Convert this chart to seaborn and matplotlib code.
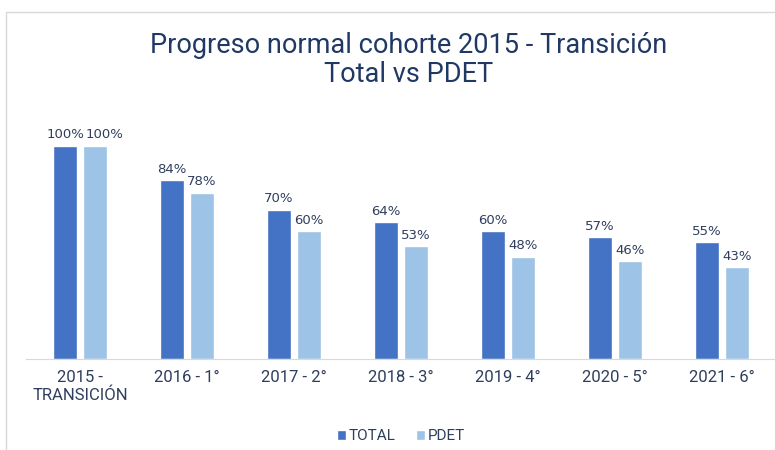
import pandas as pd
import matplotlib.pyplot as plt
import matplotlib.patches as mpatches
import seaborn as sns

# datos
grados = ["2015 -\nTRANSICIÓN", "2016 - 1°", "2017 - 2°", "2018 - 3°",
          "2019 - 4°", "2020 - 5°", "2021 - 6°"]
total = [100, 84, 70, 64, 60, 57, 55]
pdet = [100, 78, 60, 53, 48, 46, 43]

df = pd.DataFrame({
    "grado": grados * 2,
    "valor": total + pdet,
    "serie": ["TOTAL"] * len(grados) + ["PDET"] * len(grados),
})

sns.set_style("white")
plt.rcParams['font.family'] = ['Roboto', 'DejaVu Sans']

texto = '#2F3E5E'
fig = plt.figure(figsize=(7.75, 4.5), dpi=100)
ax = fig.add_axes([26.5 / 775, 91 / 450, 749 / 775, 256 / 450])

sns.barplot(data=df, x="grado", y="valor", hue="serie", ax=ax,
            palette={"TOTAL": "#4472C4", "PDET": "#9DC3E6"},
            width=0.56, gap=0.2, saturation=1)

etiquetas = []
for cont in ax.containers:
    etiquetas.append(ax.bar_label(cont, fmt='%.0f%%', padding=3, fontsize=9.5,
                                  color=texto, family='DejaVu Sans'))
# en el primer grupo las dos etiquetas se empujan (como en Excel)
x0, y0 = etiquetas[1][0].xyann
etiquetas[1][0].xyann = (x0 + 7, y0)

ax.set_xlim(-0.5, 6.5)
ax.set_ylim(0, 120)
ax.set_yticks([])
ax.set_xlabel("")
ax.set_ylabel("")
for s in ["top", "right", "left"]:
    ax.spines[s].set_visible(False)
ax.spines["bottom"].set_color('#D9D9D9')
ax.tick_params(axis='x', length=0, labelsize=12, labelcolor=texto, pad=8)

ax.legend(loc='upper center', bbox_to_anchor=(0.5, -0.22), ncol=2, frameon=False,
          fontsize=11, labelcolor=texto, handlelength=0.6, handleheight=0.6,
          handletextpad=0.2, columnspacing=1.3)

fig.text(409 / 775, 1 - 60 / 450, "Progreso normal cohorte 2015 - Transición\nTotal vs PDET",
         ha='center', va='center', fontsize=19.5, color='#1F3864', linespacing=1.1)

# marco del gráfico
fig.patches.append(mpatches.Rectangle((5.5 / 775, -0.05), 1.1, 1 - 12 / 450 + 0.05,
                                      transform=fig.transFigure, fill=False,
                                      edgecolor='#D9D9D9', linewidth=1))

fig.savefig("out.png", dpi=100)
